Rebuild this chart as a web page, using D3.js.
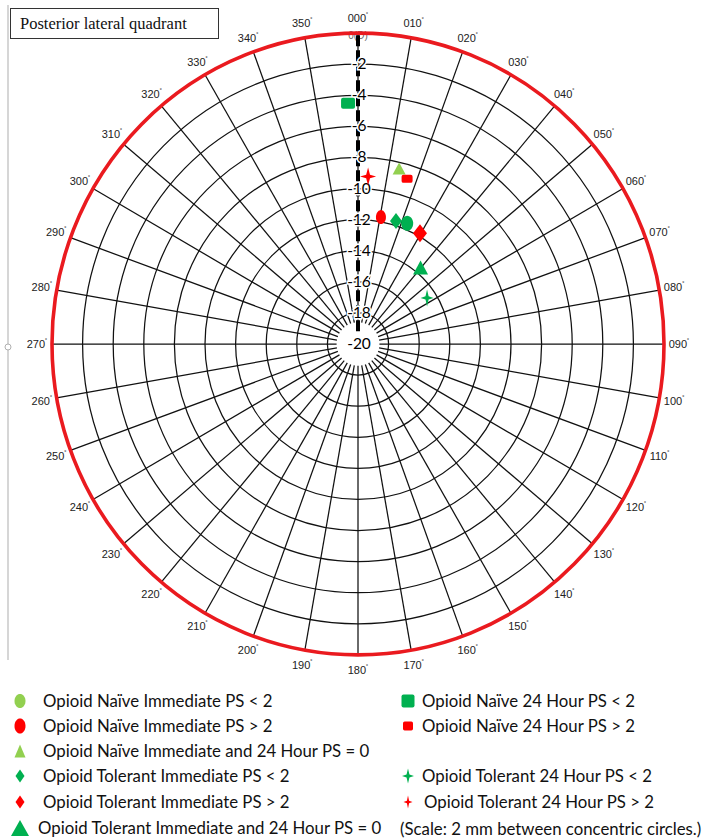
<!DOCTYPE html>
<html>
<head>
<meta charset="utf-8">
<script src="https://cdn.jsdelivr.net/npm/d3@7"></script>
<style>
  html, body { margin: 0; padding: 0; background: #fff; }
  svg { display: block; }
</style>
</head>
<body>
<svg id="chart" width="704" height="839"></svg>
<script>
// Series (legend order) and their polar positions: depth in mm, bearing in degrees
const seriesNames = [
  "Opioid Naïve Immediate PS < 2",
  "Opioid Naïve Immediate PS > 2",
  "Opioid Naïve Immediate and 24 Hour PS = 0",
  "Opioid Tolerant Immediate PS < 2",
  "Opioid Tolerant Immediate PS > 2",
  "Opioid Tolerant Immediate and 24 Hour PS = 0",
  "Opioid Naïve 24 Hour PS < 2",
  "Opioid Naïve 24 Hour PS > 2",
  "Opioid Tolerant 24 Hour PS < 2",
  "Opioid Tolerant 24 Hour PS > 2"
];
const seriesDepth = [-11.6, -11.7, -8.4, -11.7, -11.8, -13.6, -4.5, -8.9, -14.6, -9.2];
const seriesBearing = [22.5, 10.4, 13.4, 17.4, 29.6, 39.7, 357.6, 16.8, 56.7, 3.5];

// Concentric ring values and their labels
const ringValues = [-2, -4, -6, -8, -10, -12, -14, -16, -18];
const ringLabels = ["-2", "-4", "-6", "-8", "-10", "-12", "-14", "-16", "-18", "-20"];
const bearingTicks = d3.range(0, 360, 10);

const titleText = "Posterior lateral quadrant";
const scaleNote = "(Scale: 2 mm between concentric circles.)";

// Marker styles per series
const GREEN = "#00b050", LIME = "#92d050", RED = "#ff0000";
const markerStyle = [
  { shape: "ellipse", fill: GREEN, legendFill: LIME, w: 12, h: 15, lw: 11, lh: 14 },
  { shape: "ellipse", fill: RED, w: 10, h: 14, lw: 11, lh: 15 },
  { shape: "triangle", fill: LIME, w: 13, h: 12, lw: 11, lh: 13 },
  { shape: "diamond", fill: GREEN, w: 12, h: 16, lw: 9, lh: 13 },
  { shape: "diamond", fill: RED, w: 14, h: 18, lw: 9, lh: 13 },
  { shape: "triangle", fill: GREEN, w: 15, h: 14, lw: 18, lh: 16 },
  { shape: "square", fill: GREEN, w: 14, h: 11, lw: 13, lh: 13 },
  { shape: "square", fill: RED, w: 11, h: 8, lw: 10, lh: 9 },
  { shape: "star", fill: GREEN, w: 13, h: 17, lw: 12, lh: 15 },
  { shape: "star", fill: RED, w: 16, h: 18, lw: 9, lh: 13 }
];

const svg = d3.select("#chart");
const cx = 358, cy = 344, R = 306, ky = 1.016;

const rScale = d3.scaleLinear().domain([-20, 0]).range([0, R]);
const aScale = d3.scaleLinear().domain([0, 360]).range([0, 2 * Math.PI]);
const px = (r, deg) => cx + r * Math.sin(aScale(deg));
const py = (r, deg) => cy - r * Math.cos(aScale(deg)) * ky;

function shapePath(shape, w, h) {
  const p = d3.path();
  const a = w / 2, b = h / 2;
  if (shape === "ellipse") {
    const n = 40;
    for (let i = 0; i <= n; i++) {
      const t = i / n * 2 * Math.PI;
      const x = a * Math.cos(t), y = b * Math.sin(t);
      if (i === 0) p.moveTo(x, y); else p.lineTo(x, y);
    }
    p.closePath();
  } else if (shape === "triangle") {
    p.moveTo(0, -b); p.lineTo(a, b); p.lineTo(-a, b); p.closePath();
  } else if (shape === "diamond") {
    p.moveTo(0, -b); p.lineTo(a, 0); p.lineTo(0, b); p.lineTo(-a, 0); p.closePath();
  } else if (shape === "square") {
    const rr = Math.min(2, a / 3);
    p.moveTo(-a + rr, -b); p.lineTo(a - rr, -b); p.quadraticCurveTo(a, -b, a, -b + rr);
    p.lineTo(a, b - rr); p.quadraticCurveTo(a, b, a - rr, b);
    p.lineTo(-a + rr, b); p.quadraticCurveTo(-a, b, -a, b - rr);
    p.lineTo(-a, -b + rr); p.quadraticCurveTo(-a, -b, -a + rr, -b);
    p.closePath();
  } else if (shape === "star") {
    const ia = a * 0.24, ib = b * 0.2;
    p.moveTo(0, -b); p.lineTo(ia, -ib); p.lineTo(a, 0); p.lineTo(ia, ib);
    p.lineTo(0, b); p.lineTo(-ia, ib); p.lineTo(-a, 0); p.lineTo(-ia, -ib); p.closePath();
  }
  return p.toString();
}

// Left guide line with handle
svg.append("line").attr("x1", 8).attr("x2", 8).attr("y1", 5).attr("y2", 660)
  .attr("stroke", "#c9c9c9").attr("stroke-width", 1.5);
svg.append("circle").attr("cx", 8).attr("cy", 347).attr("r", 3)
  .attr("fill", "#fff").attr("stroke", "#b0b0b0").attr("stroke-width", 1);

// Title box
svg.append("rect").attr("x", 10.5).attr("y", 8.5).attr("width", 208).attr("height", 30)
  .attr("fill", "#fff").attr("stroke", "#333").attr("stroke-width", 1);
svg.append("text").attr("x", 20).attr("y", 29)
  .attr("font-family", "Liberation Serif, serif").attr("font-size", 16.5)
  .attr("fill", "#111").text(titleText);

const grid = svg.append("g");

// Concentric rings
grid.selectAll("ellipse.ring").data(ringValues).join("ellipse")
  .attr("class", "ring")
  .attr("cx", cx).attr("cy", cy)
  .attr("rx", d => rScale(d)).attr("ry", d => rScale(d) * ky)
  .attr("fill", "none").attr("stroke", "#111").attr("stroke-width", 1.25);

// Radial bearing lines
grid.selectAll("line.spoke").data(bearingTicks).join("line")
  .attr("class", "spoke")
  .attr("x1", d => px(rScale(-18.6), d)).attr("y1", d => py(rScale(-18.6), d))
  .attr("x2", d => px(R, d)).attr("y2", d => py(R, d))
  .attr("stroke", "#111").attr("stroke-width", 1.25);

// Small label under 000 (partly hidden by the rim)
svg.append("text").attr("x", cx).attr("y", 39).attr("text-anchor", "middle")
  .attr("font-family", "Liberation Sans, Arial, sans-serif").attr("font-size", 10)
  .attr("fill", "#666").text("0(D)");

// Outer rim
svg.append("ellipse").attr("cx", cx).attr("cy", cy).attr("rx", R).attr("ry", R * ky)
  .attr("fill", "none").attr("stroke", "#ea1a1f").attr("stroke-width", 3.6);

// Bearing labels
const fmtDeg = d => d3.format("03d")(d);
const bl = svg.append("g").attr("font-family", "Liberation Sans, Arial, sans-serif")
  .attr("font-size", 11).attr("fill", "#222");
bearingTicks.forEach(d => {
  const t = bl.append("text")
    .attr("x", px(R + 15, d)).attr("y", py(R + 15, d) + 4)
    .attr("text-anchor", "middle");
  t.append("tspan").text(fmtDeg(d));
  t.append("tspan").attr("font-size", 7).attr("dy", -4).text("˚");
});

// Depth axis along 000
svg.append("line")
  .attr("x1", cx).attr("y1", py(rScale(0) - 2, 0))
  .attr("x2", cx).attr("y2", py(rScale(-19.4), 0))
  .attr("stroke", "#000").attr("stroke-width", 4)
  .attr("stroke-dasharray", "11,4");

const depthVals = ringValues.concat([-20]);
svg.append("g").selectAll("text").data(depthVals).join("text")
  .attr("x", cx + 1).attr("y", d => py(rScale(d), 0) + 5)
  .attr("text-anchor", "middle")
  .attr("font-family", "Lato, sans-serif").attr("font-size", 15.5)
  .attr("fill", "#000")
  .attr("stroke", "#fff").attr("stroke-width", 3).attr("paint-order", "stroke")
  .text((d, i) => ringLabels[i]);

// Data markers
svg.append("g").selectAll("path").data(seriesNames).join("path")
  .attr("d", (d, i) => shapePath(markerStyle[i].shape, markerStyle[i].w, markerStyle[i].h))
  .attr("transform", (d, i) => `translate(${px(rScale(seriesDepth[i]), seriesBearing[i])},${py(rScale(seriesDepth[i]), seriesBearing[i])})`)
  .attr("fill", (d, i) => markerStyle[i].fill);

// Legend
const leftRows = [701, 726, 751, 776, 802, 829];
const legendPos = [
  { mx: 20, my: leftRows[0], tx: 43 },
  { mx: 20, my: leftRows[1], tx: 43 },
  { mx: 20, my: leftRows[2], tx: 43 },
  { mx: 20, my: leftRows[3], tx: 43 },
  { mx: 20, my: leftRows[4], tx: 43 },
  { mx: 20, my: leftRows[5] - 1, tx: 38 },
  { mx: 408, my: leftRows[0], tx: 422 },
  { mx: 408, my: leftRows[1], tx: 422 },
  { mx: 408, my: leftRows[3], tx: 422 },
  { mx: 408, my: leftRows[4], tx: 424 }
];
const lg = svg.append("g");
seriesNames.forEach((name, i) => {
  const s = markerStyle[i], p = legendPos[i];
  lg.append("path").attr("d", shapePath(s.shape, s.lw, s.lh))
    .attr("transform", `translate(${p.mx},${p.my})`)
    .attr("fill", s.legendFill || s.fill);
  lg.append("text").attr("x", p.tx).attr("y", p.my + 5.5)
    .attr("font-family", "Lato, sans-serif").attr("font-size", 16.8)
    .attr("fill", "#111").text(name);
});
lg.append("text").attr("x", 400).attr("y", leftRows[5] + 5.5)
  .attr("font-family", "Lato, sans-serif").attr("font-size", 16.8)
  .attr("fill", "#111").text(scaleNote);
</script>
</body>
</html>
